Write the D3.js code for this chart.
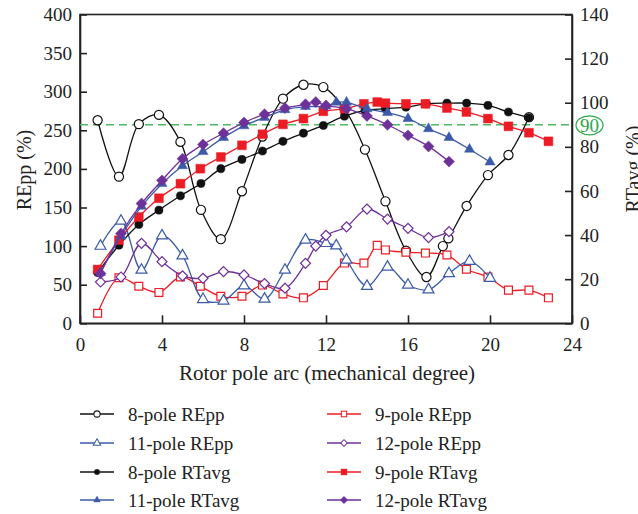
<!DOCTYPE html>
<html lang="en">
<head>
<meta charset="UTF-8">
<title>REpp / RTavg vs rotor pole arc</title>
<script src="https://d3js.org/d3.v7.min.js"></script>
<style>
  body { margin: 0; background: #fff; }
  svg text { font-family: "Liberation Serif", "DejaVu Serif", serif; fill: #222; }
  .axis path, .axis line { stroke: #222; stroke-width: 1.6; }
  .axis text { font-size: 19px; }
</style>
</head>
<body>
<script>
// --- data ---
var x8  = [0.86,1.9,2.87,3.85,4.9,5.9,6.87,7.9,8.9,9.9,10.9,11.87,12.9,13.9,14.9,15.9,16.9,17.7,17.97,18.86,19.9,20.9,21.9];
var repp8 = [263,190,258,270,235,147,109,171,242,291,309,306,278,225,158,94,60,100,110,152,192,218,267];
var x8t = [0.86,1.9,2.87,3.85,4.9,5.9,6.87,7.9,8.9,9.9,10.9,11.87,12.9,13.9,14.9,15.9,16.9,17.9,18.86,19.9,20.9,21.9];
var rt8 = [23,35.4,44.8,51.3,57.8,63.4,70.1,74.3,78.1,82.5,86.2,89.7,93.9,96.5,97.3,98,99.5,99.8,99.8,98.8,95.8,93.2];

var x9 = [0.86,1.9,2.87,3.85,4.9,5.87,6.87,7.9,8.9,9.9,10.9,11.87,12.9,13.85,14.5,14.9,15.9,16.85,17.9,18.85,19.9,20.9,21.9,22.85];
var repp9 = [13,59,48,40,60,48,35,35,49.5,38,33,49,78,78,101,95,92,91,88.5,70,60,43,43,33];
var rt9 = [24.4,37.7,48.2,56.7,63.3,70.1,75.4,80.7,85.7,90.2,92.8,96.1,97.3,99.5,100.3,99.8,99.5,99.5,97.6,95.8,92.8,89.3,86.4,82.5];

var x11 = [1,2,3,4,5,6,7,8,9,10,11,12,12.5,13,14,15,16,17,18,19,20];
var repp11 = [100,132.5,69,113.5,87.6,31,29,48.7,31.5,69,108,103.6,100.5,82,48,73,49.6,43.5,64.5,80.5,58.5];
var rt11 = [23,39.5,53,63.3,71.4,77.8,84.2,89.5,93.3,96.8,98.2,98.5,100.2,100.2,97.2,95.5,92.8,88.2,84.2,78.9,73.1];

var x12 = [1,2,3,4,5,6,7,8,9,10,11,11.5,12,13,14,15,16,17,18];
var repp12 = [53.5,60,103.6,79.8,61.5,58.3,67,62.6,51.5,45.5,77.7,100,114,125,148,135,123,111,118.7];
var rt12 = [22.6,40.7,54.3,64.8,74.6,81.1,86.2,91,94.8,97.6,99.3,100.3,98.7,97.3,94,90,85.2,80.2,73.3];

var xTicks = [0,4,8,12,16,20,24];
var leftTicks = [0,50,100,150,200,250,300,350,400];
var rightTicks = [0,20,40,60,80,100,120,140];
var refLine = 90;

var w = 638, h = 514;
var padL = 80, padR = 572, padT = 14.5, padB = 323.3;

var svg = d3.select("body").append("svg").attr("width", w).attr("height", h);

var xScale = d3.scaleLinear().domain([0,24]).range([padL,padR]);
var yL = d3.scaleLinear().domain([0,400]).range([padB,padT]);
var yR = d3.scaleLinear().domain([0,140]).range([padB,padT]);

var black = "#111", red = "#ec1c24", blue = "#3b5ba8", purple = "#6e3099";

// series list: [label, xs, ys, scale, color, marker, filled]
var series = [
  ["8-pole REpp", x8, repp8, yL, black, "circle", false],
  ["9-pole REpp", x9, repp9, yL, red, "square", false],
  ["11-pole REpp", x11, repp11, yL, blue, "triangle", false],
  ["12-pole REpp", x12, repp12, yL, purple, "diamond", false],
  ["8-pole RTavg", x8t, rt8, yR, black, "circle", true],
  ["9-pole RTavg", x9, rt9, yR, red, "square", true],
  ["11-pole RTavg", x11, rt11, yR, blue, "triangle", true],
  ["12-pole RTavg", x12, rt12, yR, purple, "diamond", true]
];

function symbolFor(m, filled){
  if (m == "circle") return d3.symbol(d3.symbolCircle, filled ? 52 : 66)();
  if (m == "square") return d3.symbol(d3.symbolSquare, filled ? 78 : 62)();
  if (m == "triangle") return d3.symbol(d3.symbolTriangle, filled ? 44 : 52)();
  return d3.symbol(d3.symbolSquare, filled ? 60 : 50)();
}
function rot(m){ return m == "diamond" ? " rotate(45)" : ""; }

// frame
svg.append("rect").attr("x",padL).attr("y",padT)
  .attr("width",padR-padL).attr("height",padB-padT)
  .attr("fill","none").attr("stroke","#222").attr("stroke-width",1.6);

// axes
svg.append("g").attr("class","axis").attr("transform","translate(0,"+padB+")")
  .call(d3.axisBottom(xScale).tickValues(xTicks).tickSizeInner(-8).tickSizeOuter(0).tickPadding(14));
svg.append("g").attr("class","axis").attr("transform","translate("+padL+",0)")
  .call(d3.axisLeft(yL).tickValues(leftTicks).tickSizeInner(-7).tickSizeOuter(0).tickPadding(8));
svg.append("g").attr("class","axis").attr("transform","translate("+padR+",0)")
  .call(d3.axisRight(yR).tickValues(rightTicks).tickSizeInner(-7).tickSizeOuter(0).tickPadding(8));

// reference line at 90 %
svg.append("line").attr("x1",padL).attr("x2",padR)
  .attr("y1",yR(refLine)).attr("y2",yR(refLine))
  .attr("stroke","#4cb860").attr("stroke-width",1.5).attr("stroke-dasharray","8,5");
svg.append("ellipse").attr("cx",padR+17.5).attr("cy",yR(refLine)+0.5)
  .attr("rx",13.5).attr("ry",9.5).attr("fill","none").attr("stroke","#2aa84a").attr("stroke-width",1.2);
svg.append("text").attr("x",padR+17.5).attr("y",yR(refLine)+7)
  .attr("text-anchor","middle").attr("font-size",19).style("fill","#2aa84a").text(refLine);

// series
var line = d3.line().curve(d3.curveCatmullRom.alpha(0.5));
series.forEach(function(s){
  var pts = s[1].map(function(xv,i){ return [xScale(xv), s[3](s[2][i])]; });
  var g = svg.append("g");
  g.append("path").attr("d", line(pts)).attr("fill","none")
    .attr("stroke", s[4]).attr("stroke-width",1.3);
  g.selectAll("path.m").data(pts).enter().append("path").attr("class","m")
    .attr("d", symbolFor(s[5], s[6]))
    .attr("transform", function(p){ return "translate("+p[0]+","+p[1]+")" + rot(s[5]); })
    .attr("fill", s[6] ? s[4] : "#fff")
    .attr("stroke", s[4]).attr("stroke-width", s[6] ? 0.5 : 1.2);
});

// axis titles
svg.append("text").attr("transform","translate(31,170) rotate(-90)")
  .attr("text-anchor","middle").attr("font-size",20).text("REpp (%)");
svg.append("text").attr("transform","translate(640,169) rotate(-90)")
  .attr("text-anchor","middle").attr("font-size",20).text("RTavg (%)");
svg.append("text").attr("x",327).attr("y",380)
  .attr("text-anchor","middle").attr("font-size",21).text("Rotor pole arc (mechanical degree)");

// legend
var legRows = [414,443,472,500];
var legCols = [80,327];
series.forEach(function(s,i){
  var col = i % 2;
  var row = i < 4 ? Math.floor(i/2) : 2 + Math.floor((i-4)/2);
  var lx = legCols[col], ly = legRows[row];
  var g = svg.append("g").attr("transform","translate("+lx+","+ly+")");
  g.append("line").attr("x1",0).attr("x2",34).attr("y1",0).attr("y2",0)
    .attr("stroke",s[4]).attr("stroke-width",1.3);
  g.append("path").attr("d",symbolFor(s[5],s[6])).attr("transform","translate(17,0) scale(0.68)" + rot(s[5]))
    .attr("fill", s[6] ? s[4] : "#fff").attr("stroke",s[4]).attr("stroke-width", s[6] ? 0.5 : 1.5);
  g.append("text").attr("x",48).attr("y",7).attr("font-size",19).text(s[0]);
});
</script>
</body>
</html>
